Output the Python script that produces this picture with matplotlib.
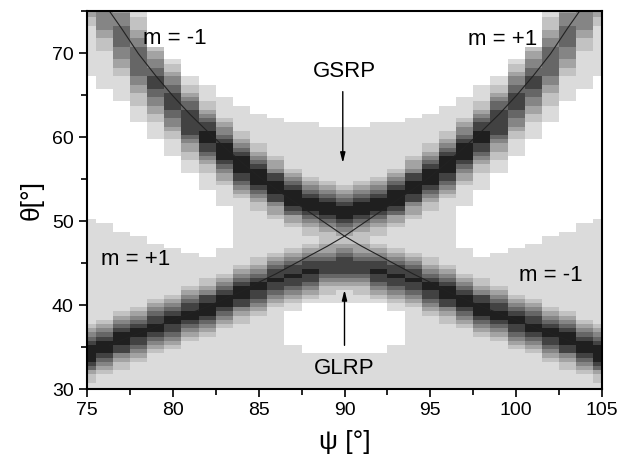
import numpy as np
import matplotlib.pyplot as plt
from matplotlib.colors import ListedColormap, BoundaryNorm

plt.rcParams['font.family'] = ['Liberation Sans', 'DejaVu Sans']

# left half of the map, psi = 75..90 (right half is the mirror image about 90)
psi_half = np.arange(75, 91)
upper_center = [77.5, 74.8, 72.0, 69.0, 66.4, 64.2, 61.9, 60.0, 58.3, 56.6, 55.2, 54.0, 52.9, 52.0, 51.4, 51.1]
lower_center = [34.3, 35.0, 35.8, 36.6, 37.4, 38.1, 38.9, 39.7, 40.5, 41.3, 42.2, 43.0, 43.5, 44.0, 44.5, 44.7]
upper_peak = [0.45, 0.5, 0.58, 0.66, 0.72, 0.78, 0.84, 0.9, 0.95, 1.0, 1.0, 1.0, 1.0, 1.0, 1.0, 1.0]
lower_peak = [1.0, 1.0, 0.95, 0.9, 0.9, 0.9, 0.9, 0.95, 0.95, 0.95, 0.9, 0.85, 0.85, 0.85, 0.8, 0.8]

# white (empty) theta ranges in each column
white_gaps = [
    [(50.0, 67.4)],
    [(49.5, 66.0)],
    [(48.8, 64.4)],
    [(48.0, 62.0)],
    [(47.3, 59.9), (70.5, 76.0)],
    [(46.6, 57.6), (69.0, 76.0)],
    [(46.0, 55.7), (67.3, 76.0)],
    [(45.5, 53.7), (66.0, 76.0)],
    [(46.5, 52.0), (64.8, 76.0)],
    [(63.8, 76.0)],
    [(62.9, 76.0)],
    [(62.3, 76.0)],
    [(61.9, 76.0), (35.0, 39.5)],
    [(61.6, 76.0), (34.0, 40.5)],
    [(61.3, 76.0), (34.0, 40.5)],
    [(61.2, 76.0), (34.0, 40.5)],
]

# theoretical m = -1 curve (m = +1 is its mirror about psi = 90)
psi_line = [76.3, 77, 78, 79, 80, 81, 82, 83, 84, 85, 86, 87, 88, 89, 90,
            91, 92, 93, 94, 95, 96, 97, 98, 99, 100, 101, 102, 103, 103.7]
theta_line = [75.0, 72.96, 69.9, 67.3, 64.9, 62.7, 60.7, 58.8, 57.0, 55.3, 53.8, 52.4, 51.0, 49.6, 48.2,
              47.0, 45.9, 44.8, 43.7, 42.7, 41.6, 40.7, 39.8, 39.0, 38.2, 37.4, 36.6, 35.8, 35.2]

gray_levels = [1.0, 0.86, 0.76, 0.64, 0.52, 0.40, 0.26, 0.12]
thresholds = [0.1, 0.22, 0.36, 0.52, 0.68, 0.85]


def mirror(vals):
    vals = list(vals)
    return vals + vals[-2::-1]


psi = np.arange(75, 106)
uc, lc = np.array(mirror(upper_center)), np.array(mirror(lower_center))
ua, la = np.array(mirror(upper_peak)), np.array(mirror(lower_peak))
gaps = mirror(white_gaps)

theta = np.arange(30, 75.01, 0.5)
sigma = 1.5
level = np.zeros((len(theta), len(psi)), dtype=int)
for j in range(len(psi)):
    v = np.zeros_like(theta)
    for cen, amp in ((uc, ua), (lc, la)):
        slope = np.gradient(cen)[j]
        s = sigma * np.sqrt(1 + (0.5 * slope) ** 2)
        v += amp[j] * np.exp(-0.5 * ((theta - cen[j]) / s) ** 2)
    col = 1 + np.searchsorted(thresholds, v, side='right')
    for lo, hi in gaps[j]:
        col[(theta > lo) & (theta < hi)] = 0
    level[:, j] = col

fig = plt.figure(figsize=(6.19, 4.70), dpi=100)
ax = fig.add_axes([87 / 619, 81 / 470, 515 / 619, 378 / 470])

cmap = ListedColormap([(g, g, g) for g in gray_levels])
norm = BoundaryNorm(np.arange(-0.5, len(gray_levels)), cmap.N)
psi_edges = np.append(psi - 0.5, psi[-1] + 0.5)
theta_edges = np.append(theta - 0.25, theta[-1] + 0.25)
ax.pcolormesh(psi_edges, theta_edges, level, cmap=cmap, norm=norm)

ax.plot(psi_line, theta_line, color='#222222', lw=0.8)
ax.plot(180 - np.array(psi_line), theta_line, color='#222222', lw=0.8)

fs = 16
ax.text(80.1, 71.7, 'm = -1', fontsize=fs, ha='center', va='center')
ax.text(99.2, 71.6, 'm = +1', fontsize=fs, ha='center', va='center')
ax.text(77.85, 45.4, 'm = +1', fontsize=fs, ha='center', va='center')
ax.text(102.0, 43.5, 'm = -1', fontsize=fs, ha='center', va='center')

arrow = dict(arrowstyle='-|>,head_length=0.6,head_width=0.15', color='black', lw=1,
             shrinkA=0, shrinkB=0)
ax.text(90.0, 66.6, 'GSRP', fontsize=fs, ha='center', va='bottom')
ax.annotate('', xy=(89.9, 56.9), xytext=(89.9, 65.4), arrowprops=arrow)
ax.text(90.0, 33.7, 'GLRP', fontsize=fs, ha='center', va='top')
ax.annotate('', xy=(90.0, 41.8), xytext=(90.0, 35.2), arrowprops=arrow)

ax.set_xlim(75, 105)
ax.set_ylim(30, 75)
ax.set_xticks(np.arange(75, 106, 5))
ax.set_xticks(np.arange(77.5, 105, 5), minor=True)
ax.set_yticks(np.arange(30, 71, 10))
ax.set_yticks(np.arange(35, 76, 10), minor=True)
ax.tick_params(which='major', length=6, width=1.2, labelsize=14)
ax.tick_params(which='minor', length=4, width=1.2)
for sp in ax.spines.values():
    sp.set_linewidth(1.5)

ax.set_xlabel('ψ [°]', fontsize=19, labelpad=8)
ax.set_ylabel('θ[°]', fontsize=19, labelpad=6)

fig.savefig('out.png', dpi=100)
